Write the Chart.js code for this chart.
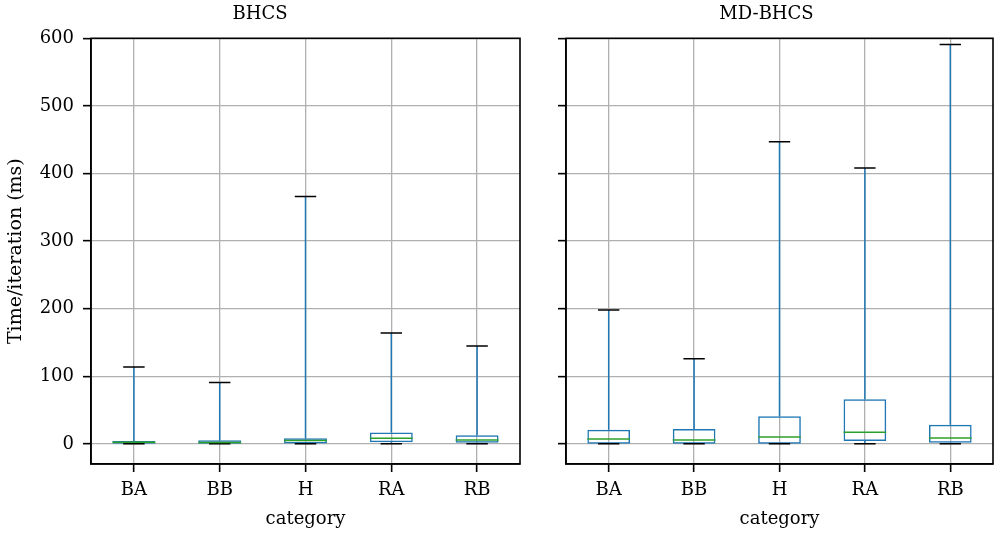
<!DOCTYPE html>
<html>
<head>
<meta charset="utf-8">
<script src="https://cdn.jsdelivr.net/npm/chart.js@4.4.1/dist/chart.umd.min.js"></script>
<style>
  html, body { margin: 0; padding: 0; background: #fff; }
  #wrap { position: relative; width: 996px; height: 534px; }
  .panel { position: absolute; top: 0; height: 534px; }
</style>
</head>
<body>
<div id="wrap">
  <div class="panel" style="left:0;width:540px"><canvas id="leftChart"></canvas></div>
  <div class="panel" style="left:540px;width:456px"><canvas id="rightChart"></canvas></div>
</div>
<script>
// categories on the x axis
var categories = ['BA', 'BB', 'H', 'RA', 'RB'];
var yTicks = [0, 100, 200, 300, 400, 500, 600];
var yMin = -29.6;
var yMax = 600;

// BHCS panel (ms)
var bhcsMin = [0.2, 0.2, 0.2, 0.3, 0.3];
var bhcsQ1 = [0.4, 0.5, 0.8, 2.5, 2];
var bhcsMedian = [2.5, 2.2, 5, 8.4, 6];
var bhcsQ3 = [4.5, 5.5, 8.5, 17, 13];
var bhcsMax = [114, 91, 366, 164, 145];

// MD-BHCS panel (ms)
var mdMin = [0.3, 0.3, 0.3, 0.5, 0.5];
var mdQ1 = [0.5, 0.5, 0.5, 4.5, 2];
var mdMedian = [7.5, 6, 10.5, 17.5, 9];
var mdQ3 = [21, 22, 41, 66, 28.5];
var mdMax = [198, 126, 447, 408, 591];

Chart.defaults.font.family = "'DejaVu Serif', serif";
Chart.defaults.font.size = 18;
Chart.defaults.color = '#000';

var BLUE = '#1f77b4';
var GREEN = '#2ca02c';
var GRID = '#b0b0b0';

// whiskers, caps and medians, drawn with the chart's own scales
var boxExtras = {
  id: 'boxExtras',
  afterDatasetsDraw: function (chart) {
    var st = chart.options.plugins.boxExtras;
    var x = chart.scales.x, y = chart.scales.y;
    var meta = chart.getDatasetMeta(0);
    var ctx = chart.ctx;
    ctx.save();
    ctx.lineWidth = 1.5;
    for (var i = 0; i < categories.length; i++) {
      var cx = x.getPixelForValue(i);
      var half = meta.data[i].width / 2;
      var cap = half / 2;
      // whiskers
      ctx.strokeStyle = BLUE;
      ctx.beginPath();
      ctx.moveTo(cx, y.getPixelForValue(st.q3[i]));
      ctx.lineTo(cx, y.getPixelForValue(st.max[i]));
      ctx.moveTo(cx, y.getPixelForValue(st.q1[i]));
      ctx.lineTo(cx, y.getPixelForValue(st.min[i]));
      ctx.stroke();
      // caps
      ctx.strokeStyle = '#000';
      ctx.beginPath();
      ctx.moveTo(cx - cap, y.getPixelForValue(st.max[i]));
      ctx.lineTo(cx + cap, y.getPixelForValue(st.max[i]));
      ctx.moveTo(cx - cap, y.getPixelForValue(st.min[i]));
      ctx.lineTo(cx + cap, y.getPixelForValue(st.min[i]));
      ctx.stroke();
      // median
      ctx.strokeStyle = GREEN;
      ctx.beginPath();
      ctx.moveTo(cx - half, y.getPixelForValue(st.median[i]));
      ctx.lineTo(cx + half, y.getPixelForValue(st.median[i]));
      ctx.stroke();
    }
    ctx.restore();
  },
  afterDraw: function (chart) {
    var a = chart.chartArea;
    var ctx = chart.ctx;
    ctx.save();
    ctx.strokeStyle = '#000';
    ctx.lineWidth = 1.6;
    ctx.strokeRect(a.left, a.top, a.right - a.left, a.bottom - a.top);
    ctx.restore();
  }
};

function makePanel(canvasId, title, q1, median, q3, min, max, showLabels, yWidth, padRight) {
  var boxes = q1.map(function (v, i) { return [v, q3[i]]; });
  return new Chart(document.getElementById(canvasId), {
    type: 'bar',
    data: {
      labels: categories,
      datasets: [{
        data: boxes,
        backgroundColor: 'rgba(0,0,0,0)',
        borderColor: BLUE,
        borderWidth: 1.5,
        borderSkipped: false,
        barPercentage: 0.5,
        categoryPercentage: 1.0
      }]
    },
    options: {
      responsive: true,
      maintainAspectRatio: false,
      animation: false,
      layout: { padding: { left: 0, right: padRight, top: 0, bottom: 0 } },
      plugins: {
        legend: { display: false },
        tooltip: { enabled: false },
        title: {
          display: true,
          text: title,
          color: '#000',
          font: { size: 18, weight: 'normal' },
          padding: { top: 4, bottom: 12.7 }
        },
        boxExtras: { q1: q1, median: median, q3: q3, min: min, max: max }
      },
      scales: {
        x: {
          offset: true,
          grid: { display: true, offset: false, color: GRID, lineWidth: 1.3, tickColor: '#000', tickWidth: 1.6, tickLength: 8 },
          border: { display: true, color: '#000', width: 1.6 },
          ticks: { padding: 8, maxRotation: 0, font: { size: 18 } },
          title: { display: true, text: 'category', font: { size: 18 }, padding: { top: 0, bottom: 4 } },
          afterFit: function (scale) { scale.height = 70; }
        },
        y: {
          min: yMin,
          max: yMax,
          grid: { color: GRID, lineWidth: 1.3, tickColor: '#000', tickWidth: 1.6, tickLength: 8 },
          border: { display: true, color: '#000', width: 1.6 },
          ticks: {
            padding: 9,
            font: { size: 18 },
            callback: function (v) { return showLabels ? v : ''; }
          },
          afterBuildTicks: function (scale) {
            scale.ticks = yTicks.map(function (v) { return { value: v }; });
          },
          title: {
            display: showLabels,
            text: 'Time/iteration (ms)',
            font: { size: 19 },
            padding: { top: 5, bottom: 0 }
          },
          afterFit: function (scale) { scale.width = yWidth; }
        }
      }
    },
    plugins: [boxExtras]
  });
}

var leftChart = makePanel('leftChart', 'BHCS', bhcsQ1, bhcsMedian, bhcsQ3, bhcsMin, bhcsMax, true, 91, 20);
var rightChart = makePanel('rightChart', 'MD-BHCS', mdQ1, mdMedian, mdQ3, mdMin, mdMax, false, 26, 3);
</script>
</body>
</html>
